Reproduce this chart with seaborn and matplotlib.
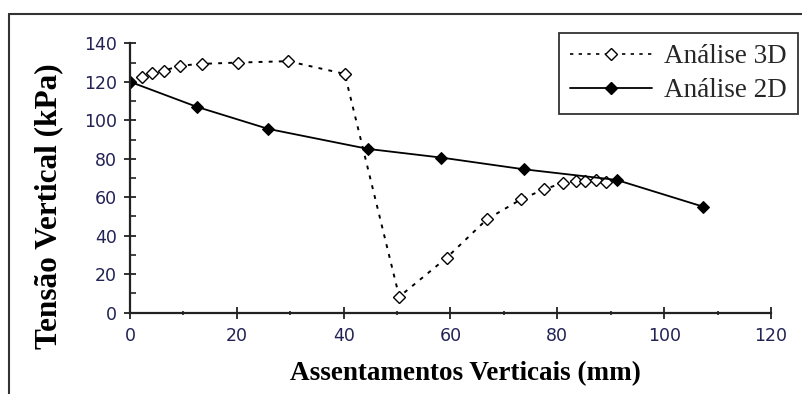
import matplotlib
matplotlib.use("Agg")
import matplotlib.pyplot as plt
from matplotlib.lines import Line2D
from matplotlib.ticker import MultipleLocator
import seaborn as sns
import pandas as pd

# Settlement (mm) vs. vertical stress (kPa) for the 3D analysis
x_3d = [0, 2.2, 4.1, 6.4, 9.4, 13.4, 20.3, 29.6, 40.2, 50.4, 59.3, 66.8,
        73.2, 77.5, 81.0, 83.5, 85.2, 87.3, 89.1]
y_3d = [120, 122.3, 124.7, 125.8, 128.4, 129.3, 130.0, 130.7, 124.1, 8.3, 28.6, 48.5,
        58.9, 64.1, 67.4, 68.6, 68.6, 69.0, 68.1]

# Settlement (mm) vs. vertical stress (kPa) for the 2D analysis
x_2d = [0, 12.5, 25.9, 44.6, 58.3, 73.8, 91.1, 107.3]
y_2d = [120, 107, 95.5, 85.1, 80.6, 74.5, 69, 55.1]

series_labels = ["Análise 3D", "Análise 2D"]
x_label = "Assentamentos Verticais (mm)"
y_label = "Tensão Vertical (kPa)"
x_ticks = [0, 20, 40, 60, 80, 100, 120]
y_ticks = [0, 20, 40, 60, 80, 100, 120, 140]

df3 = pd.DataFrame({"x": x_3d, "y": y_3d})
df2 = pd.DataFrame({"x": x_2d, "y": y_2d})

sns.set_style("white")
plt.rcParams["font.family"] = ["DejaVu Sans"]

W, H = 803, 394
fig = plt.figure(figsize=(W / 100, H / 100), dpi=100)
ax = fig.add_axes([130 / W, 1 - 312.7 / H, (771 - 130) / W, (312.7 - 43.3) / H])

dash_3d = (0, (2.0, 3.2))
sns.lineplot(data=df3, x="x", y="y", ax=ax, sort=False, estimator=None,
             color="black", lw=1.4, linestyle=dash_3d,
             marker="D", markersize=6.3, markerfacecolor="white",
             markeredgecolor="black", markeredgewidth=1.0)
sns.lineplot(data=df2, x="x", y="y", ax=ax, sort=False, estimator=None,
             color="black", lw=1.3, linestyle="-",
             marker="D", markersize=6.5, markerfacecolor="black",
             markeredgecolor="black")

ax.set_xlim(0, 120)
ax.set_ylim(0, 140)
ax.set_xticks(x_ticks)
ax.set_yticks(y_ticks)
ax.xaxis.set_minor_locator(MultipleLocator(10))
ax.yaxis.set_minor_locator(MultipleLocator(10))

for side in ("top", "right"):
    ax.spines[side].set_visible(False)
for side in ("left", "bottom"):
    ax.spines[side].set_color("#222222")
    ax.spines[side].set_linewidth(1.6)

tick_color = "#222255"
ax.tick_params(axis="both", which="major", direction="inout", length=8,
               width=1.3, color="#222222", labelsize=12.5, labelcolor=tick_color)
ax.tick_params(axis="y", which="major", pad=5.5)
ax.tick_params(axis="x", which="major", pad=6.5)
ax.tick_params(axis="x", which="minor", direction="inout", length=3,
               width=1.2, color="#222222")
ax.tick_params(axis="y", which="minor", direction="in", length=4,
               width=1.2, color="#222222")
ax.tick_params(left=True, bottom=True, which="both")

ax.set_xlabel(x_label, family="Liberation Serif", weight="bold", size=19.5, color="black")
ax.set_ylabel(y_label, family="Liberation Serif", weight="bold", size=22.5, color="black")
ax.xaxis.set_label_coords(0.524, -0.178)
ax.yaxis.set_label_coords(-0.104, 0.395)

handles = [
    Line2D([], [], color="black", lw=1.2, linestyle=dash_3d, marker="D",
           markersize=6, markerfacecolor="white", markeredgecolor="black",
           markeredgewidth=1.0),
    Line2D([], [], color="black", lw=1.3, linestyle="-", marker="D",
           markersize=6, markerfacecolor="black", markeredgecolor="black"),
]
leg = ax.legend(handles, series_labels, loc="upper right",
                bbox_to_anchor=(798 / W, 1 - 33 / H), bbox_transform=fig.transFigure,
                prop=dict(family="Liberation Serif", size=19.5),
                frameon=True, fancybox=False, handlelength=3.0,
                handletextpad=0.45, borderpad=0.42, labelspacing=0.32,
                borderaxespad=0)
leg.get_frame().set_edgecolor("black")
leg.get_frame().set_linewidth(1.3)

# Outer frame, cut off on the right and bottom
fig.add_artist(Line2D([9.5 / W, 9.5 / W], [0, 1 - 14 / H], transform=fig.transFigure,
                      color="#333333", lw=1.5))
fig.add_artist(Line2D([9.5 / W, 1], [1 - 14 / H, 1 - 14 / H], transform=fig.transFigure,
                      color="#333333", lw=1.5))

fig.savefig("out.png", dpi=100)
